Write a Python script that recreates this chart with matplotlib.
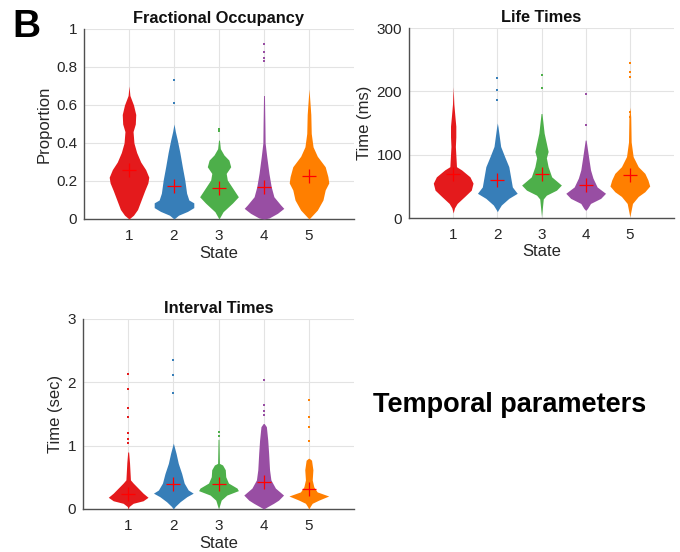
import matplotlib
matplotlib.use("Agg")
import matplotlib.pyplot as plt
import numpy as np

plt.rcParams['font.family'] = ['Liberation Sans', 'DejaVu Sans']

states = [1, 2, 3, 4, 5]
state_labels = ['1', '2', '3', '4', '5']
colors = ['#E41A1C', '#377EB8', '#4DAF4A', '#984EA3', '#FF7F00']

# ---------------- Fractional Occupancy (profile levels / half-widths per state)
fo_levels = [
    [0.0, 0.02, 0.05, 0.10, 0.15, 0.19, 0.22, 0.26, 0.30, 0.35, 0.40, 0.46, 0.50, 0.55, 0.60, 0.65, 0.70],
    [0.0, 0.02, 0.04, 0.06, 0.085, 0.10, 0.136, 0.205, 0.275, 0.35, 0.415, 0.46, 0.50],
    [0.0, 0.038, 0.084, 0.117, 0.153, 0.205, 0.24, 0.275, 0.31, 0.337, 0.37, 0.415],
    [0.0, 0.005, 0.03, 0.056, 0.074, 0.117, 0.17, 0.24, 0.33, 0.40, 0.50, 0.65],
    [0.0, 0.047, 0.10, 0.153, 0.19, 0.223, 0.275, 0.33, 0.38, 0.45, 0.55, 0.684],
]
fo_halfwidths = [
    [0.0, 0.10, 0.19, 0.27, 0.35, 0.42, 0.44, 0.37, 0.26, 0.17, 0.11, 0.09, 0.14, 0.15, 0.10, 0.02, 0.0],
    [0.0, 0.10, 0.30, 0.44, 0.44, 0.33, 0.28, 0.24, 0.185, 0.13, 0.074, 0.03, 0.0],
    [0.0, 0.09, 0.30, 0.43, 0.33, 0.185, 0.16, 0.26, 0.22, 0.11, 0.03, 0.01],
    [0.0, 0.11, 0.30, 0.44, 0.37, 0.22, 0.16, 0.11, 0.06, 0.025, 0.02, 0.01],
    [0.0, 0.185, 0.31, 0.36, 0.44, 0.42, 0.36, 0.185, 0.09, 0.05, 0.04, 0.0],
]
fo_outliers = [[], [0.61, 0.73], [0.465, 0.475], [0.83, 0.85, 0.88, 0.92], []]
fo_means = [0.26, 0.175, 0.165, 0.167, 0.228]

# ---------------- Life Times (ms)
lt_levels = [
    [8, 16, 23, 34, 44, 55, 65, 76, 81, 113, 128, 145, 160, 180, 207],
    [10, 12.6, 20.5, 31, 39, 49, 65, 81, 97, 113, 144, 150],
    [2, 30, 36, 44, 52, 65, 81, 95, 105, 118, 134, 165],
    [12, 15, 23, 31, 39, 49, 63, 76, 92, 123],
    [2, 23, 34, 41.5, 50.5, 60, 70.5, 81, 97, 120, 160, 175],
]
lt_halfwidths = [
    [0.0, 0.03, 0.09, 0.26, 0.41, 0.45, 0.38, 0.19, 0.075, 0.05, 0.06, 0.06, 0.04, 0.015, 0.0],
    [0.0, 0.02, 0.09, 0.26, 0.45, 0.34, 0.30, 0.26, 0.165, 0.075, 0.015, 0.0],
    [0.0, 0.04, 0.11, 0.34, 0.45, 0.23, 0.15, 0.11, 0.15, 0.11, 0.06, 0.01],
    [0.0, 0.04, 0.11, 0.34, 0.45, 0.26, 0.165, 0.11, 0.075, 0.01],
    [0.0, 0.06, 0.19, 0.34, 0.45, 0.41, 0.34, 0.19, 0.075, 0.03, 0.02, 0.0],
]
lt_outliers = [[], [186, 202, 221], [205, 226], [147, 196], [110, 160, 168, 223, 230, 245]]
lt_means = [69.5, 60, 69, 52, 68]

# ---------------- Interval Times (sec)
it_levels = [
    [0.0, 0.04, 0.09, 0.13, 0.185, 0.25, 0.33, 0.41, 0.46, 0.73, 0.90],
    [0.0, 0.04, 0.115, 0.195, 0.25, 0.30, 0.41, 0.56, 0.72, 0.88, 1.04],
    [0.0, 0.14, 0.22, 0.29, 0.33, 0.41, 0.51, 0.62, 0.695, 0.72, 1.10],
    [0.0, 0.03, 0.09, 0.14, 0.22, 0.33, 0.46, 0.62, 0.88, 1.09, 1.30, 1.35],
    [0.0, 0.04, 0.09, 0.14, 0.205, 0.27, 0.35, 0.46, 0.62, 0.77, 0.80],
]
it_halfwidths = [
    [0.0, 0.02, 0.11, 0.33, 0.44, 0.33, 0.22, 0.11, 0.05, 0.03, 0.01],
    [0.0, 0.04, 0.15, 0.30, 0.44, 0.33, 0.24, 0.185, 0.11, 0.06, 0.0],
    [0.0, 0.06, 0.185, 0.44, 0.41, 0.22, 0.16, 0.15, 0.09, 0.02, 0.01],
    [0.0, 0.07, 0.22, 0.33, 0.44, 0.26, 0.16, 0.13, 0.11, 0.09, 0.06, 0.01],
    [0.0, 0.03, 0.075, 0.22, 0.44, 0.185, 0.11, 0.075, 0.09, 0.06, 0.01],
]
it_outliers = [[1.05, 1.1, 1.2, 1.45, 1.6, 1.9, 2.13], [1.83, 2.11, 2.35], [1.15, 1.22],
               [1.48, 1.55, 1.64, 2.04], [1.07, 1.3, 1.45, 1.72]]
it_means = [0.24, 0.39, 0.39, 0.43, 0.315]

panels = [
    dict(pos=[84/680, 1-219/552, 270/680, 190/552], title='Fractional Occupancy', ylabel='Proportion',
         ylim=(0, 1), yticks=[0, 0.2, 0.4, 0.6, 0.8, 1], yticklabels=['0', '0.2', '0.4', '0.6', '0.8', '1'],
         levels=fo_levels, hw=fo_halfwidths, out=fo_outliers, means=fo_means),
    dict(pos=[409/680, 1-218/552, 265/680, 190/552], title='Life Times', ylabel='Time (ms)',
         ylim=(0, 300), yticks=[0, 100, 200, 300], yticklabels=['0', '100', '200', '300'],
         levels=lt_levels, hw=lt_halfwidths, out=lt_outliers, means=lt_means),
    dict(pos=[83/680, 1-509/552, 271/680, 190/552], title='Interval Times', ylabel='Time (sec)',
         ylim=(0, 3), yticks=[0, 1, 2, 3], yticklabels=['0', '1', '2', '3'],
         levels=it_levels, hw=it_halfwidths, out=it_outliers, means=it_means),
]

fig = plt.figure(figsize=(6.8, 5.52), dpi=100)
axis_col = '#262626'
for p in panels:
    ax = fig.add_axes(p['pos'])
    for i, s in enumerate(states):
        y = np.array(p['levels'][i], dtype=float)
        w = np.array(p['hw'][i], dtype=float)
        ax.fill_betweenx(y, s - w, s + w, color=colors[i], lw=0, zorder=3)
        if p['out'][i]:
            ax.scatter(np.full(len(p['out'][i]), s), p['out'][i], s=3, marker='s',
                       color=colors[i], lw=0, zorder=3)
        ax.plot(s, p['means'][i], marker='+', color='#FF0000', ms=10, mew=0.9, zorder=4)
    ax.set_xlim(0, 6)
    ax.set_ylim(*p['ylim'])
    ax.set_xticks(states)
    ax.set_xticklabels(state_labels)
    ax.set_yticks(p['yticks'])
    ax.set_yticklabels(p['yticklabels'])
    ax.grid(True, color='#e3e3e3', lw=0.8, zorder=0)
    ax.set_axisbelow(True)
    for sp in ['top', 'right']:
        ax.spines[sp].set_visible(False)
    for sp in ['left', 'bottom']:
        ax.spines[sp].set_color('#505050')
        ax.spines[sp].set_linewidth(1.0)
    ax.tick_params(axis='both', length=0, labelsize=11, colors=axis_col)
    ax.tick_params(axis='x', pad=7)
    ax.tick_params(axis='y', pad=5)
    ax.set_xlabel('State', fontsize=12, color=axis_col, labelpad=2)
    ax.set_ylabel(p['ylabel'], fontsize=12, color=axis_col, labelpad=3)
    ax.set_title(p['title'], fontsize=11.8, fontweight='bold', color='#111111', pad=4)

fig.text(12/680, 1-9/552, 'B', fontsize=28, fontweight='bold', va='top', ha='left')
fig.text(373/680, 1-412/552, 'Temporal parameters', fontsize=19.5, fontweight='bold',
         va='baseline', ha='left')

fig.savefig('out.png', dpi=100)
